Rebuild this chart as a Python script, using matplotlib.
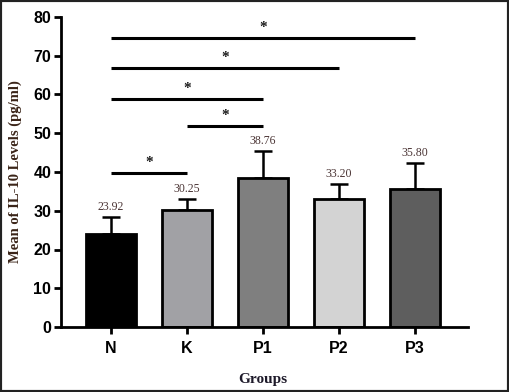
import matplotlib
matplotlib.use("Agg")
import matplotlib.pyplot as plt
from matplotlib.patches import Rectangle

groups = ["N", "K", "P1", "P2", "P3"]
means = [23.9, 30.1, 38.5, 33.0, 35.5]
errors = [4.6, 2.9, 7.0, 4.0, 6.8]
value_labels = ["23.92", "30.25", "38.76", "33.20", "35.80"]
colors = ["#000000", "#a1a1a5", "#7f7f7f", "#d3d3d3", "#5e5e5e"]
sig_pairs = [(0, 1), (1, 2), (0, 2), (0, 3), (0, 4)]
sig_heights = [39.7, 51.8, 58.9, 66.8, 74.7]
yticks = [0, 10, 20, 30, 40, 50, 60, 70, 80]

fig = plt.figure(figsize=(5.09, 3.92), dpi=100)
ax = fig.add_axes([61/509, 1 - 327/392, (468-61)/509, (327-17)/392])

x = list(range(len(groups)))
ax.bar(x, means, width=0.65, color=colors, edgecolor="black", linewidth=2, zorder=2)
ax.errorbar(x, means, yerr=[[0]*5, errors], fmt="none", ecolor="black",
            elinewidth=1.8, capsize=6.5, capthick=1.8, zorder=1)

for xi, m, e, lab in zip(x, means, errors, value_labels):
    ax.text(xi, m + e + 1.0, lab, ha="center", va="bottom",
            family="Liberation Serif", fontsize=8.5, color="#4a3434")

for (a, b), h in zip(sig_pairs, sig_heights):
    ax.plot([a, b], [h, h], color="black", lw=2.2, solid_capstyle="butt")
    ax.text((a + b) / 2, h + 1.0, "*", ha="center", va="bottom",
            family="Liberation Serif", fontsize=11, fontweight="bold", color="#1a1a1a")

ax.set_xlim(-0.66, 4.70)
ax.set_ylim(0, 80)
ax.set_yticks(yticks)
ax.set_xticks(x)
ax.set_xticklabels(groups)
for lab in ax.get_xticklabels() + ax.get_yticklabels():
    lab.set_family("Liberation Sans")
    lab.set_fontweight("bold")
    lab.set_fontsize(11.5)
ax.tick_params(axis="both", width=2, length=5, color="black")
ax.tick_params(axis="x", pad=5)
ax.tick_params(axis="y", pad=2)
for s in ["top", "right"]:
    ax.spines[s].set_visible(False)
for s in ["left", "bottom"]:
    ax.spines[s].set_linewidth(2)

fig.text(15/509, 1 - 172/392, "Mean of IL-10 Levels (pg/ml)", rotation=90,
         ha="center", va="center", family="Liberation Serif", fontweight="bold",
         fontsize=10.5, color="#3a2418")
fig.text(263/509, 1 - 379/392, "Groups", ha="center", va="center",
         family="Liberation Serif", fontweight="bold", fontsize=11, color="#1e1a2a")

border = Rectangle((0, 0), 1, 1, transform=fig.transFigure, fill=False,
                   edgecolor="#222222", linewidth=3)
fig.patches.append(border)

fig.savefig("out.png", dpi=100)
